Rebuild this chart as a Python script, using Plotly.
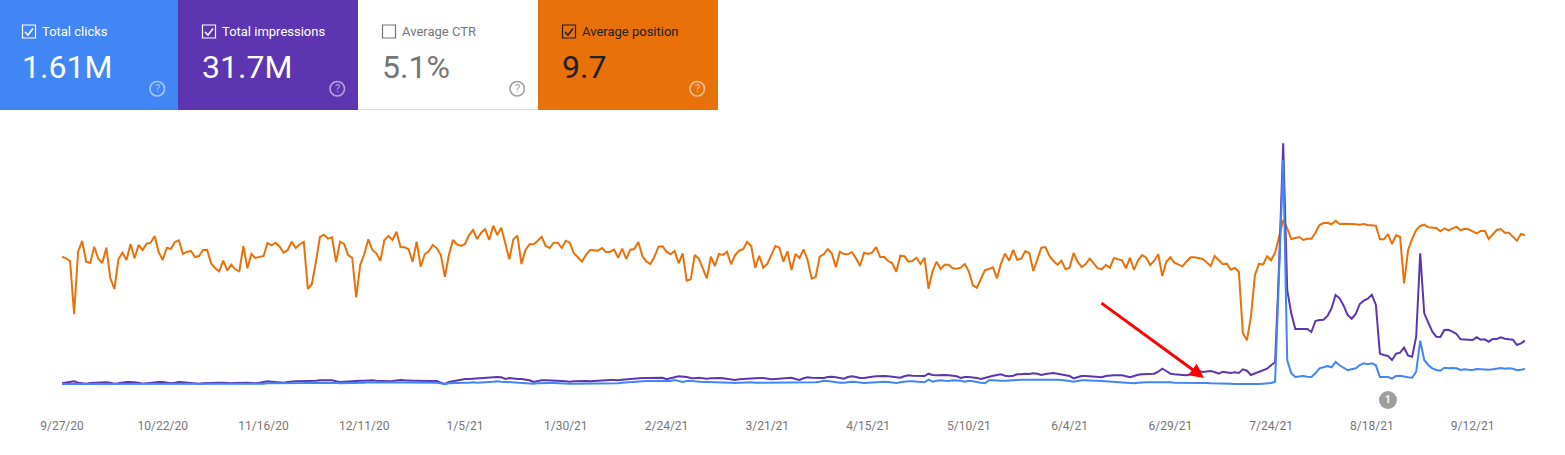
import pandas as pd
import plotly.graph_objects as go

WIDTH = 1565
HEIGHT = 455

BLUE = "#4285F4"
PURPLE = "#5E35B1"
ORANGE = "#E8710A"
GREY = "#757575"

start_date = "2020-09-27"

tick_labels = ["9/27/20", "10/22/20", "11/16/20", "12/11/20", "1/5/21", "1/30/21", "2/24/21",
               "3/21/21", "4/15/21", "5/10/21", "6/4/21", "6/29/21", "7/24/21", "8/18/21", "9/12/21"]
tick_dates = ["2020-09-27", "2020-10-22", "2020-11-16", "2020-12-11", "2021-01-05", "2021-01-30",
              "2021-02-24", "2021-03-21", "2021-04-15", "2021-05-10", "2021-06-04", "2021-06-29",
              "2021-07-24", "2021-08-18", "2021-09-12"]

card_titles = ["Total clicks", "Total impressions", "Average CTR", "Average position"]
card_values = ["1.61M", "31.7M", "5.1%", "9.7"]

# clicks per day, thousands
clicks = [
    4.0,4.0,4.3,4.3,4.0,3.7,3.7,4.0,4.0,4.0, 4.3,4.3,4.0,3.7,3.7,4.0,4.3,4.3,4.3,4.0,
    3.7,3.7,4.0,4.3,4.3,4.3,4.0,3.7,4.0,4.3, 4.3,4.0,4.0,4.0,3.7,3.7,4.0,4.0,4.0,4.0,
    4.0,3.7,3.7,3.7,4.0,4.0,4.0,4.0,3.7,4.0, 4.3,4.7,4.7,4.3,4.3,4.3,4.7,5.0,5.0,5.0,
    5.0,5.3,5.3,5.3,5.3,5.7,5.7,5.3,5.0,4.7, 4.7,5.0,5.3,5.3,5.3,5.3,5.7,5.7,5.7,5.3,
    5.3,5.3,5.3,5.7,6.0,6.0,5.7,5.7,5.7,5.7, 5.7,5.7,5.7,5.3,4.7,3.7,
    4.7,5.0,5.3,5.3,5.3,5.3,5.7,5.3,5.3,6.0, 6.0,6.3,6.7,6.3,6.0,5.7,5.3,5.3,5.0,5.0,
    4.7,4.3,4.7,5.0,5.0,5.0,5.0,4.7,4.7,4.3, 4.3,4.3,4.3,4.3,4.3,4.3,4.7,4.3,4.3,4.3,
    4.3,4.3,4.7,5.3,5.7,5.7,6.0,6.3,6.7,7.0, 7.0,7.0,7.3,7.3,6.7,7.0,8.0,7.0,6.0,7.0,
    7.3,6.7,6.0,6.0,6.0,6.0,6.0,6.0,5.7,5.7, 5.3,5.0,5.3,5.7,5.7,5.7,5.3,5.3,5.3,5.7,
    5.7,6.0,6.0,6.0,5.7,5.3,5.7,6.0,6.0,6.0, 6.0,5.7,6.3,7.3,7.0,6.3,
    5.7,5.3,5.3,6.0,6.3,6.0,5.3,5.0,5.3,5.7, 6.0,6.3,6.3,6.0,5.3,5.0,5.7,6.3,6.7,6.7,
    6.3,6.3,5.7,8.3,6.3,7.3,7.7,7.3,7.0,7.7, 7.7,7.3,6.3,7.3,6.7,6.3,5.3,4.7,7.7,7.7,
    7.3,7.3,7.3,7.3,7.7,8.0,8.3,8.3,8.7,8.7, 8.7,8.3,8.3,9.0,8.7,8.3,8.0,7.7,7.0,6.3,
    7.3,7.7,7.7,7.3,7.3,7.3,7.0,7.0,6.3,6.3, 6.0,5.7,5.7,5.3,4.7,5.3,5.7,5.7,5.7,5.7,
    5.7,6.3,5.7,5.7,5.3,5.3,5.0,5.0,5.3,5.3, 5.7,5.3,5.0,4.7,4.7,5.0,
    4.7,4.7,4.3,4.0,4.0,3.7,3.3,3.3,3.7,4.0, 4.3,4.7,5.0,6.3,114.7,228,28,14.7,11,11.7,
    12,11.3,11,14.7,19.7,20.7,22,20.7,26,22.7, 20,17.7,18.7,19.7,23,24.7,23.7,24.7,22.7,11,
    11,11,9.3,12,12.3,11.3,10.7,10.3,16.3,47.3, 28,23,19.7,18,17.3,20.3,19.7,20,19.7,18,
    18.7,18.3,18,19,18.7,18.7,18.3,18.7,19.3,20, 19.3,19.7,19.3,17.7,18.3,19,
]

# impressions per day, thousands
impressions = [
    47,53,60,67,53,47,43,50,53,53, 57,57,53,43,47,57,60,60,57,53,
    43,47,57,60,60,60,53,47,53,60, 57,53,53,50,43,47,50,53,53,53,
    53,47,47,50,53,53,53,50,47,53, 60,67,63,60,57,53,60,67,67,67,
    67,70,70,73,77,77,77,77,67,60, 63,67,70,70,73,73,77,77,73,70,
    67,67,70,77,80,77,73,73,73,70, 70,70,70,70,53,40,
    60,67,77,87,90,90,93,93,100,97, 103,110,110,107,90,100,93,90,90,83,
    77,60,70,77,77,77,73,70,70,67, 63,67,70,73,70,67,70,77,80,80,
    80,80,77,83,87,93,93,97,100,100, 100,103,107,103,87,100,107,117,117,110,
    100,97,103,97,93,97,100,100,97,93, 87,80,87,90,97,97,97,100,100,93,
    87,90,93,97,100,103,90,80,97,107, 103,100,103,100,110,113,
    107,103,93,110,117,110,100,100,103,113, 117,120,120,117,113,110,103,117,127,123,
    120,120,120,143,130,127,130,130,127,120, 117,100,110,110,107,100,90,103,110,123,
    130,137,123,117,123,137,137,143,140,147, 143,130,140,147,150,143,137,133,120,97,
    110,120,120,117,113,110,107,120,127,127, 127,127,117,107,120,133,137,140,137,143,
    163,193,170,143,137,137,130,127,137,157, 173,160,167,170,160,143,
    163,157,150,157,150,187,173,130,147,160, 173,193,227,257,1247,2447,980,747,590,590,
    587,590,560,670,680,683,720,797,930,897, 823,730,693,740,840,873,893,933,830,343,
    330,320,280,343,353,403,323,313,513,1347, 747,647,563,513,510,580,583,563,540,487,
    483,477,480,507,483,487,463,490,490,507, 493,487,483,430,447,473,
]

# average position per day (lower is better, axis is reversed)
position = [
    10.67,10.83,11.10,16.40,10.17,9.10,11.17,11.30,9.67,10.87, 11.30,9.77,12.83,13.90,10.93,10.27,11.00,9.40,10.83,9.50,
    10.00,9.37,9.27,8.60,10.23,11.00,9.77,9.90,9.20,9.03, 10.40,10.17,10.10,10.70,10.60,10.00,9.97,11.33,11.83,12.13,
    11.07,12.03,11.47,11.93,12.13,9.60,11.83,10.40,10.80,10.70, 10.60,9.30,9.53,9.27,9.67,10.27,10.00,9.17,9.80,9.43,
    9.20,13.90,13.40,11.17,8.70,8.47,8.87,8.73,11.20,9.17, 9.40,10.50,10.77,14.73,11.50,10.43,8.93,10.00,10.33,11.07,
    9.00,8.60,9.00,8.17,9.70,9.73,9.93,11.17,9.17,11.67, 10.43,10.13,
    9.50,9.83,10.50,12.67,10.50,9.00,9.43,9.60,9.40,8.50, 8.00,8.90,8.27,7.93,9.00,7.57,8.50,7.77,9.33,10.93,
    8.93,8.57,11.40,10.00,9.43,9.43,9.10,8.67,9.60,9.80, 9.27,9.27,9.80,9.07,9.27,10.33,10.73,11.17,10.50,10.00,
    10.03,10.07,9.80,10.23,10.17,9.97,10.77,9.87,10.90,9.97, 9.90,9.20,10.60,11.17,11.40,10.67,9.67,9.63,10.17,10.43,
    10.10,11.33,10.33,13.07,12.93,10.50,10.87,11.83,12.83,10.67, 11.60,10.40,10.50,10.17,11.43,10.50,10.07,9.93,9.20,9.60,
    11.77,10.57,11.77,11.40,10.50,9.60,9.77,11.17,10.13,12.00, 10.40,10.80,9.93,11.00,12.87,12.70,
    10.67,10.43,9.90,10.33,11.73,10.17,10.40,10.43,10.20,10.83, 11.60,10.27,10.40,10.27,9.70,10.70,10.70,11.10,11.33,12.17,
    10.57,10.63,11.17,11.10,10.77,11.40,10.77,13.87,12.10,11.17, 11.90,11.47,11.47,11.83,11.87,11.77,11.40,12.13,13.53,13.77,
    12.90,12.00,11.90,11.73,12.83,11.33,10.37,11.07,10.00,10.97, 10.87,10.13,10.27,12.10,10.93,9.77,9.70,10.60,11.10,11.47,
    11.07,11.93,11.77,10.30,11.17,11.70,11.40,10.87,11.33,11.83, 11.93,11.50,11.77,10.80,10.93,11.03,11.83,10.77,12.00,11.00,
    10.50,10.77,11.50,11.07,10.43,12.60,11.17,10.73,11.27,11.47, 11.63,11.17,10.73,10.73,10.80,10.90,11.23,11.60,10.60,11.00,
    11.43,11.37,11.97,11.80,12.17,18.33,19.03,16.67,12.50,11.37, 11.47,10.63,11.03,10.27,8.67,7.00,7.83,8.90,8.80,8.70,
    9.00,8.87,8.87,8.27,7.50,7.30,7.27,7.43,7.07,7.40, 7.37,7.37,7.40,7.43,7.47,7.40,7.50,7.53,7.57,8.93,
    8.93,8.40,9.40,8.53,8.67,13.33,10.00,8.90,8.00,7.60, 7.47,7.73,7.77,7.80,8.13,7.83,8.03,7.83,7.67,8.03,
    7.87,7.93,8.10,8.33,8.10,8.07,8.90,8.50,8.00,7.90, 8.27,8.27,8.67,9.07,8.40,8.53,
]

note_dates = ["2021-08-22"]
note_labels = ["<b>1</b>"]

assert len(clicks) == len(impressions) == len(position), (len(clicks), len(impressions), len(position))
dates = pd.date_range(start_date, periods=len(position), freq="D")

# plot area in page pixels
LEFT, RIGHT, TOP, BOTTOM = 62, 1525, 130, 400


def px(x):
    return (x - LEFT) / (RIGHT - LEFT)


def py(y):
    return (BOTTOM - y) / (BOTTOM - TOP)


# overlaying axes paint in id order, so the top line (clicks) has to sit on y3
fig = go.Figure()
fig.add_trace(go.Scatter(x=dates, y=position, yaxis="y", mode="lines", line=dict(color=ORANGE, width=2),
                         name="Average position", hoverinfo="skip"))
fig.add_trace(go.Scatter(x=dates, y=impressions, yaxis="y2", mode="lines", line=dict(color=PURPLE, width=2),
                         name="Total impressions", hoverinfo="skip"))
fig.add_trace(go.Scatter(x=dates, y=clicks, yaxis="y3", mode="lines", line=dict(color=BLUE, width=2),
                         name="Total clicks", hoverinfo="skip"))
fig.add_trace(go.Scatter(x=note_dates, y=[-12], yaxis="y3", mode="markers+text", text=note_labels,
                         textposition="middle center", textfont=dict(family="Roboto", size=10, color="white"),
                         marker=dict(color="#9E9E9E", size=18), cliponaxis=False, hoverinfo="skip"))

card_lefts = [0, 178, 358, 538]
card_rights = [178, 358, 538, 718]
content_lefts = [0, 180, 360, 540]
card_fills = [BLUE, PURPLE, "white", ORANGE]
card_inks = ["white", "white", GREY, "#202124"]
help_inks = ["rgba(255,255,255,0.55)", "rgba(255,255,255,0.55)", "#A0A0A0", "rgba(255,255,255,0.55)"]
checked = [True, True, False, True]

shapes = []
annotations = []


def text_at(x, y, text, size, color):
    annotations.append(dict(xref="paper", yref="paper", x=px(x), y=py(y), text=text, showarrow=False,
                            xanchor="left", yanchor="middle",
                            font=dict(family="Roboto", size=size, color=color)))


for i, title in enumerate(card_titles):
    left = content_lefts[i]
    ink = card_inks[i]
    box = left + 22
    shapes.append(dict(type="rect", xref="paper", yref="paper", x0=px(card_lefts[i]), x1=px(card_rights[i]),
                       y0=py(110), y1=py(0), fillcolor=card_fills[i], line=dict(width=0), layer="below"))
    shapes.append(dict(type="rect", xref="paper", yref="paper", x0=px(box + 0.5), x1=px(box + 13.5),
                       y0=py(38), y1=py(25), line=dict(color=ink, width=1.2)))
    if checked[i]:
        shapes.append(dict(type="path", xref="paper", yref="paper",
                           path="M %f,%f L %f,%f L %f,%f" % (px(box + 3), py(32), px(box + 6), py(35),
                                                             px(box + 11), py(28.5)),
                           line=dict(color=ink, width=1.5)))
    text_at(left + 40, 31.5, title, 13, ink)
    text_at(left + 20, 66.5, card_values[i], 32, ink)
    shapes.append(dict(type="circle", xref="paper", yref="paper", x0=px(left + 150), x1=px(left + 164.5),
                       y0=py(96), y1=py(81.5), line=dict(color=help_inks[i], width=1.5)))
    annotations.append(dict(xref="paper", yref="paper", x=px(left + 157.2), y=py(89), text="?", showarrow=False,
                            xanchor="center", yanchor="middle",
                            font=dict(family="Roboto", size=11, color=help_inks[i])))

# bottom edge of the white card
shapes.append(dict(type="line", xref="paper", yref="paper", x0=px(358), x1=px(538), y0=py(109.5), y1=py(109.5),
                   line=dict(color="#E0E0E0", width=1)))

# red arrow drawn over the screenshot
annotations.append(dict(xref="paper", yref="paper", axref="pixel", ayref="pixel", x=px(1204), y=py(378),
                        ax=-104, ay=-76, text="", showarrow=True, arrowhead=2, arrowsize=0.95, arrowwidth=3,
                        arrowcolor="#FF0000"))

fig.update_layout(
    width=WIDTH,
    height=HEIGHT,
    autosize=False,
    margin=dict(l=LEFT, r=WIDTH - RIGHT, t=TOP, b=HEIGHT - BOTTOM, pad=0),
    paper_bgcolor="white",
    plot_bgcolor="white",
    showlegend=False,
    hovermode=False,
    font=dict(family="Roboto", color=GREY),
    xaxis=dict(type="date", range=[dates[0], dates[-1]], tickmode="array", tickvals=tick_dates, ticktext=tick_labels,
               showgrid=False, zeroline=False, showline=False, ticks="outside", ticklen=15, tickcolor="rgba(0,0,0,0)",
               tickfont=dict(family="Roboto", size=12, color=GREY)),
    yaxis=dict(range=[25, -2], visible=False),
    yaxis2=dict(range=[-120, 2580], visible=False, overlaying="y"),
    yaxis3=dict(range=[-12, 258], visible=False, overlaying="y"),
    shapes=shapes,
    annotations=annotations,
)

fig.write_html("out.html", post_script="document.body.style.margin='0';", config={"displayModeBar": False})
